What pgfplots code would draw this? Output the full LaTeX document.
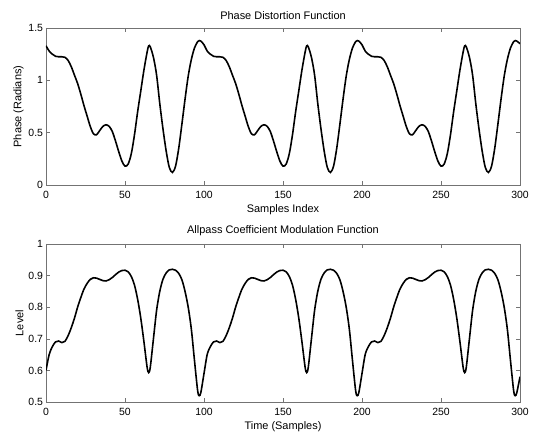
\documentclass[border=0pt]{standalone}
\usepackage{pgfplots}
\pgfplotsset{compat=1.18}
\usepackage{pgfplotstable}
\usepackage{fontspec}
\setmainfont{Liberation Sans}

\pgfplotstableread{
x y
0 1.33
2 1.28
4 1.25
6 1.23
8 1.225
10 1.225
12 1.22
14 1.19
16 1.13
18 1.05
20 0.97
22 0.87
24 0.76
26 0.66
28 0.56
30 0.49
32 0.48
34 0.52
36 0.56
38 0.575
40 0.56
42 0.51
44 0.42
46 0.32
48 0.23
50 0.18
52 0.20
54 0.30
56 0.48
58 0.70
60 0.90
62 1.10
64 1.27
65 1.33
66 1.32
68 1.22
70 1.05
72 0.78
74 0.54
76 0.33
78 0.17
80 0.12
82 0.18
84 0.35
86 0.58
88 0.82
90 1.04
92 1.20
94 1.31
96 1.37
97 1.38
98 1.375
100 1.34
102 1.28
104 1.25
106 1.23
108 1.225
110 1.225
112 1.22
114 1.19
116 1.13
118 1.05
120 0.97
122 0.87
124 0.76
126 0.66
128 0.56
130 0.49
132 0.48
134 0.52
136 0.56
138 0.575
140 0.56
142 0.51
144 0.42
146 0.32
148 0.23
150 0.18
152 0.20
154 0.30
156 0.48
158 0.70
160 0.90
162 1.10
164 1.27
165 1.33
166 1.32
168 1.22
170 1.05
172 0.78
174 0.54
176 0.33
178 0.17
180 0.12
182 0.18
184 0.35
186 0.58
188 0.82
190 1.04
192 1.20
194 1.31
196 1.37
197 1.38
198 1.375
200 1.34
202 1.28
204 1.25
206 1.23
208 1.225
210 1.225
212 1.22
214 1.19
216 1.13
218 1.05
220 0.97
222 0.87
224 0.76
226 0.66
228 0.56
230 0.49
232 0.48
234 0.52
236 0.56
238 0.575
240 0.56
242 0.51
244 0.42
246 0.32
248 0.23
250 0.18
252 0.20
254 0.30
256 0.48
258 0.70
260 0.90
262 1.10
264 1.27
265 1.33
266 1.32
268 1.22
270 1.05
272 0.78
274 0.54
276 0.33
278 0.17
280 0.12
282 0.18
284 0.35
286 0.58
288 0.82
290 1.04
292 1.20
294 1.31
296 1.37
297 1.38
298 1.375
300 1.35
}\phase

\pgfplotstableread{
x y
0 0.60
2 0.65
4 0.675
6 0.69
8 0.693
10 0.688
12 0.692
14 0.71
16 0.735
18 0.765
20 0.80
22 0.83
24 0.857
26 0.875
28 0.888
30 0.893
32 0.892
34 0.888
36 0.884
38 0.883
40 0.887
42 0.894
44 0.903
46 0.911
48 0.916
50 0.917
52 0.912
54 0.897
56 0.870
58 0.825
60 0.765
62 0.69
64 0.61
65 0.593
66 0.61
68 0.70
70 0.79
72 0.85
74 0.888
76 0.908
78 0.918
80 0.92
82 0.917
84 0.907
86 0.887
88 0.85
90 0.80
92 0.73
94 0.63
96 0.535
97 0.52
98 0.53
100 0.59
102 0.65
104 0.675
106 0.69
108 0.693
110 0.688
112 0.692
114 0.71
116 0.735
118 0.765
120 0.80
122 0.83
124 0.857
126 0.875
128 0.888
130 0.893
132 0.892
134 0.888
136 0.884
138 0.883
140 0.887
142 0.894
144 0.903
146 0.911
148 0.916
150 0.917
152 0.912
154 0.897
156 0.870
158 0.825
160 0.765
162 0.69
164 0.61
165 0.593
166 0.61
168 0.70
170 0.79
172 0.85
174 0.888
176 0.908
178 0.918
180 0.92
182 0.917
184 0.907
186 0.887
188 0.85
190 0.80
192 0.73
194 0.63
196 0.535
197 0.52
198 0.53
200 0.59
202 0.65
204 0.675
206 0.69
208 0.693
210 0.688
212 0.692
214 0.71
216 0.735
218 0.765
220 0.80
222 0.83
224 0.857
226 0.875
228 0.888
230 0.893
232 0.892
234 0.888
236 0.884
238 0.883
240 0.887
242 0.894
244 0.903
246 0.911
248 0.916
250 0.917
252 0.912
254 0.897
256 0.870
258 0.825
260 0.765
262 0.69
264 0.61
265 0.593
266 0.61
268 0.70
270 0.79
272 0.85
274 0.888
276 0.908
278 0.918
280 0.92
282 0.917
284 0.907
286 0.887
288 0.85
290 0.80
292 0.73
294 0.63
296 0.535
297 0.52
298 0.53
300 0.58
}\coef

\pgfplotsset{
  mystyle/.style={
    scale only axis,
    width=474bp,
    xmin=0, xmax=300,
    xtick={0,50,...,300},
    tick align=inside,
    major tick length=4bp,
    axis line style={draw=black!55, line width=0.6pt},
    tick style={draw=black!55, line width=0.6pt},
    /pgf/number format/assume math mode=true,
    ticklabel style={font=\fontsize{10.5}{12}\selectfont},
    label style={font=\fontsize{11}{13}\selectfont},
    title style={font=\fontsize{11}{13}\selectfont, yshift=-1bp},
    xlabel style={yshift=1bp},
    ylabel style={yshift=-2bp},
    xticklabel style={yshift=-2.5bp},
    yticklabel style={xshift=0.5bp},
  }
}

\begin{document}
\begin{tikzpicture}
\useasboundingbox (0,0) rectangle (533bp,432bp);
\begin{axis}[mystyle,
  at={(46bp,247bp)}, anchor=south west,
  height=157bp,
  ymin=0, ymax=1.5,
  ytick={0,0.5,1,1.5},
  yticklabels={0,0.5,1,1.5},
  title={Phase Distortion Function},
  xlabel={Samples Index},
  ylabel={Phase (Radians)},
]
\addplot[black, line width=1.6pt, smooth] table[x=x, y=y] {\phase};
\end{axis}
\begin{axis}[mystyle,
  at={(46bp,30bp)}, anchor=south west,
  height=158bp,
  ymin=0.5, ymax=1,
  ytick={0.5,0.6,0.7,0.8,0.9,1},
  yticklabels={0.5,0.6,0.7,0.8,0.9,1},
  title={Allpass Coefficient Modulation Function},
  xlabel={Time (Samples)},
  ylabel={Level},
]
\addplot[black, line width=1.6pt, smooth] table[x=x, y=y] {\coef};
\end{axis}
\end{tikzpicture}
\end{document}
